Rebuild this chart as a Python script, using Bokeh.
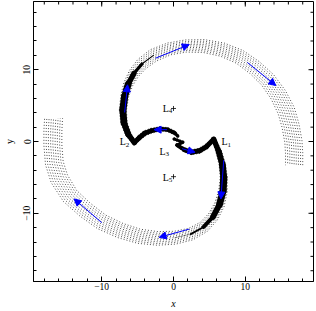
import numpy as np
from bokeh.plotting import figure
from bokeh.models import FixedTicker, Arrow, NormalHead, ColumnDataSource
from bokeh.core.properties import value
from bokeh.embed import file_html
from bokeh.resources import INLINE

# ---- data ----
# arm through L1 (centre line, half-width of particle band, half-width of solid core)
arm1_x = [0.05, 1.3, 0.5, 1.5, 2.5, 3.6, 4.6, 5.6, 6.3, 6.8, 7.0, 6.9, 6.4, 5.5, 4.2, 2.4,
          0.2, -2.2, -4.8, -7.4, -10.0, -12.3, -14.4, -15.9, -16.6, -16.8, -16.8, -16.7]
arm1_y = [0.36, -0.1, -0.5, -1.15, -1.5, -1.3, -0.7, 0.3, -1.4, -3.2, -5.0, -6.9, -8.8, -10.5,
          -11.9, -12.9, -13.4, -13.5, -13.2, -12.4, -11.2, -9.5, -7.6, -5.2, -3.0, -0.5, 1.5, 3.3]
arm1_hw = [0.2, 0.2, 0.25, 0.3, 0.35, 0.35, 0.35, 0.35, 0.4, 0.45, 0.5, 0.6, 0.7, 0.75, 0.8,
           0.85, 0.9, 0.95, 1.0, 1.05, 1.1, 1.15, 1.2, 1.25, 1.25, 1.25, 1.25, 1.25]
arm1_core = [0.2, 0.2, 0.25, 0.3, 0.35, 0.35, 0.35, 0.35, 0.4, 0.45, 0.5, 0.5, 0.45, 0.35,
             0.2, 0.05, 0, 0, 0, 0, 0, 0, 0, 0, 0, 0, 0, 0]

# arm through L2
arm2_x = [0.6, 0.15, -0.8, -1.95, -3.1, -4.0, -4.8, -5.45, -6.3, -6.9, -7.05, -6.8, -6.3, -5.5,
          -4.4, -2.8, -0.6, 1.7, 4.2, 6.8, 9.2, 11.3, 13.1, 14.6, 15.7, 16.3, 16.7, 16.8, 16.8]
arm2_y = [0.75, 1.2, 1.65, 1.75, 1.5, 1.15, 0.5, -0.15, 1.0, 2.6, 4.4, 6.3, 8.0, 9.5, 10.8,
          12.0, 12.9, 13.3, 13.3, 12.8, 11.8, 10.3, 8.6, 6.5, 4.3, 2.2, 0.0, -1.6, -3.3]
arm2_hw = [0.2, 0.25, 0.3, 0.3, 0.35, 0.35, 0.35, 0.35, 0.4, 0.45, 0.5, 0.55, 0.65, 0.75, 0.85,
           0.9, 0.85, 0.85, 0.9, 0.95, 1.0, 1.05, 1.1, 1.15, 1.2, 1.2, 1.2, 1.2, 1.2]
arm2_core = [0.2, 0.25, 0.3, 0.3, 0.35, 0.35, 0.35, 0.35, 0.4, 0.45, 0.5, 0.5, 0.45, 0.3, 0.15,
             0, 0, 0, 0, 0, 0, 0, 0, 0, 0, 0, 0, 0, 0]

# blue flow arrows
arrow_x0 = [1.2, 7.0, 2.2, -10.0, -0.9, -6.8, -2.5, 10.3]
arrow_y0 = [-1.0, -2.6, -12.2, -11.3, 1.65, 4.05, 11.6, 11.0]
arrow_x1 = [3.0, 6.6, -2.0, -13.85, -2.7, -6.4, 2.2, 14.25]
arrow_y1 = [-1.5, -8.0, -13.35, -8.0, 1.65, 7.9, 13.5, 7.8]

# Lagrange point labels
label_main = ["L", "L", "L", "L", "L"]
label_sub = ["1", "2", "3", "4", "5"]
label_x = [6.7, -7.5, -1.95, -1.5, -1.5]
label_y = [0.0, 0.0, -1.35, 4.6, -5.0]
lpt_x = [0.0, 0.0]
lpt_y = [4.6, -4.9]

major_ticks = [-10, 0, 10]
major_tick_labels = ["\u221210", "0", "10"]
minor_ticks = [-18, -16, -14, -12, -10, -8, -6, -4, -2, 0, 2, 4, 6, 8, 10, 12, 14, 16, 18]

LO, HI = -19.5, 19.5
PX_PER_UNIT = 7.15


def offset(x, y, hw, k):
    x = np.asarray(x, float); y = np.asarray(y, float); hw = np.asarray(hw, float)
    dx = np.gradient(x); dy = np.gradient(y)
    n = np.hypot(dx, dy)
    return x - k * hw * dy / n, y + k * hw * dx / n


p = figure(width=316, height=311, x_range=(LO, HI), y_range=(LO, HI),
           output_backend="svg", toolbar_location=None,
           min_border_left=33, min_border_right=3, min_border_top=1, min_border_bottom=29,
           x_axis_label="x", y_axis_label="y")
p.grid.visible = False
p.outline_line_color = "black"
p.outline_line_width = 1
p.background_fill_color = "white"
p.border_fill_color = "white"

overrides = dict(zip(major_ticks, major_tick_labels))
for ax in [p.xaxis[0], p.yaxis[0]]:
    ax.ticker = FixedTicker(ticks=major_ticks, minor_ticks=minor_ticks)
    ax.major_tick_in = 5
    ax.major_tick_out = 0
    ax.minor_tick_in = 3
    ax.minor_tick_out = 0
    ax.major_label_overrides = overrides
    ax.major_label_text_font = "Liberation Serif"
    ax.major_label_text_font_size = "9.5px"
    ax.major_label_text_color = "black"
    ax.axis_label_text_font = "Liberation Serif"
    ax.axis_label_text_font_size = "10px"
    ax.axis_label_text_color = "black"
    ax.axis_line_color = "black"
p.xaxis[0].major_label_standoff = 1
p.xaxis[0].axis_label_standoff = 5
p.yaxis[0].major_label_standoff = 3
p.yaxis[0].axis_label_standoff = 6
p.xaxis[0].axis_label_text_font_style = "italic"
p.yaxis[0].axis_label_text_font_style = "normal"
p.yaxis[0].major_label_orientation = "vertical"

# mirrored inward ticks on the top and right frame edges (half of each dash is clipped)
p.scatter(minor_ticks, [HI] * len(minor_ticks), marker="dash", angle=np.pi / 2, size=6,
          line_color="black", line_width=1)
p.scatter(major_ticks, [HI] * len(major_ticks), marker="dash", angle=np.pi / 2, size=10,
          line_color="black", line_width=1)
p.scatter([HI] * len(minor_ticks), minor_ticks, marker="dash", size=6,
          line_color="black", line_width=1)
p.scatter([HI] * len(major_ticks), major_ticks, marker="dash", size=10,
          line_color="black", line_width=1)

# particle bands
for ax_, ay_, hw_, core_ in [(arm1_x, arm1_y, arm1_hw, arm1_core),
                             (arm2_x, arm2_y, arm2_hw, arm2_core)]:
    xs, ys = [], []
    for k in np.linspace(-1, 1, 9):
        ox, oy = offset(ax_, ay_, hw_, k)
        xs.append(list(ox)); ys.append(list(oy))
    p.multi_line(xs, ys, line_color="black", line_width=0.7, line_dash="1 2")
    c = np.asarray(core_, float)
    seg = dict(x0=ax_[:-1], y0=ay_[:-1], x1=ax_[1:], y1=ay_[1:],
               w=list((c[:-1] + c[1:]) * PX_PER_UNIT))
    keep = [i for i in range(len(seg["w"])) if seg["w"][i] > 0]
    seg = {k_: [v[i] for i in keep] for k_, v in seg.items()}
    p.segment(x0="x0", y0="y0", x1="x1", y1="y1", line_width="w", source=ColumnDataSource(seg),
              line_color="black", line_cap="round", line_join="round")

asrc = ColumnDataSource(dict(x0=arrow_x0, y0=arrow_y0, x1=arrow_x1, y1=arrow_y1))
p.add_layout(Arrow(source=asrc, x_start="x0", y_start="y0", x_end="x1", y_end="y1",
                   line_color="blue", line_width=1,
                   end=NormalHead(size=7, fill_color="blue", line_color="blue")))

lsrc = ColumnDataSource(dict(x=label_x, y=label_y, t=label_main, s=label_sub))
p.text(x="x", y="y", text="t", source=lsrc, text_font=value("Liberation Serif"),
       text_font_size="10px", text_baseline="middle", text_align="left", text_color="black")
p.text(x="x", y="y", text="s", source=lsrc, text_font=value("Liberation Serif"),
       text_font_size="7px", text_baseline="middle", text_align="left", text_color="black",
       x_offset=6, y_offset=3)
p.scatter(lpt_x, lpt_y, marker="cross", size=5, line_color="black", line_width=0.8)

open("out.html", "w").write(file_html(p, INLINE))
